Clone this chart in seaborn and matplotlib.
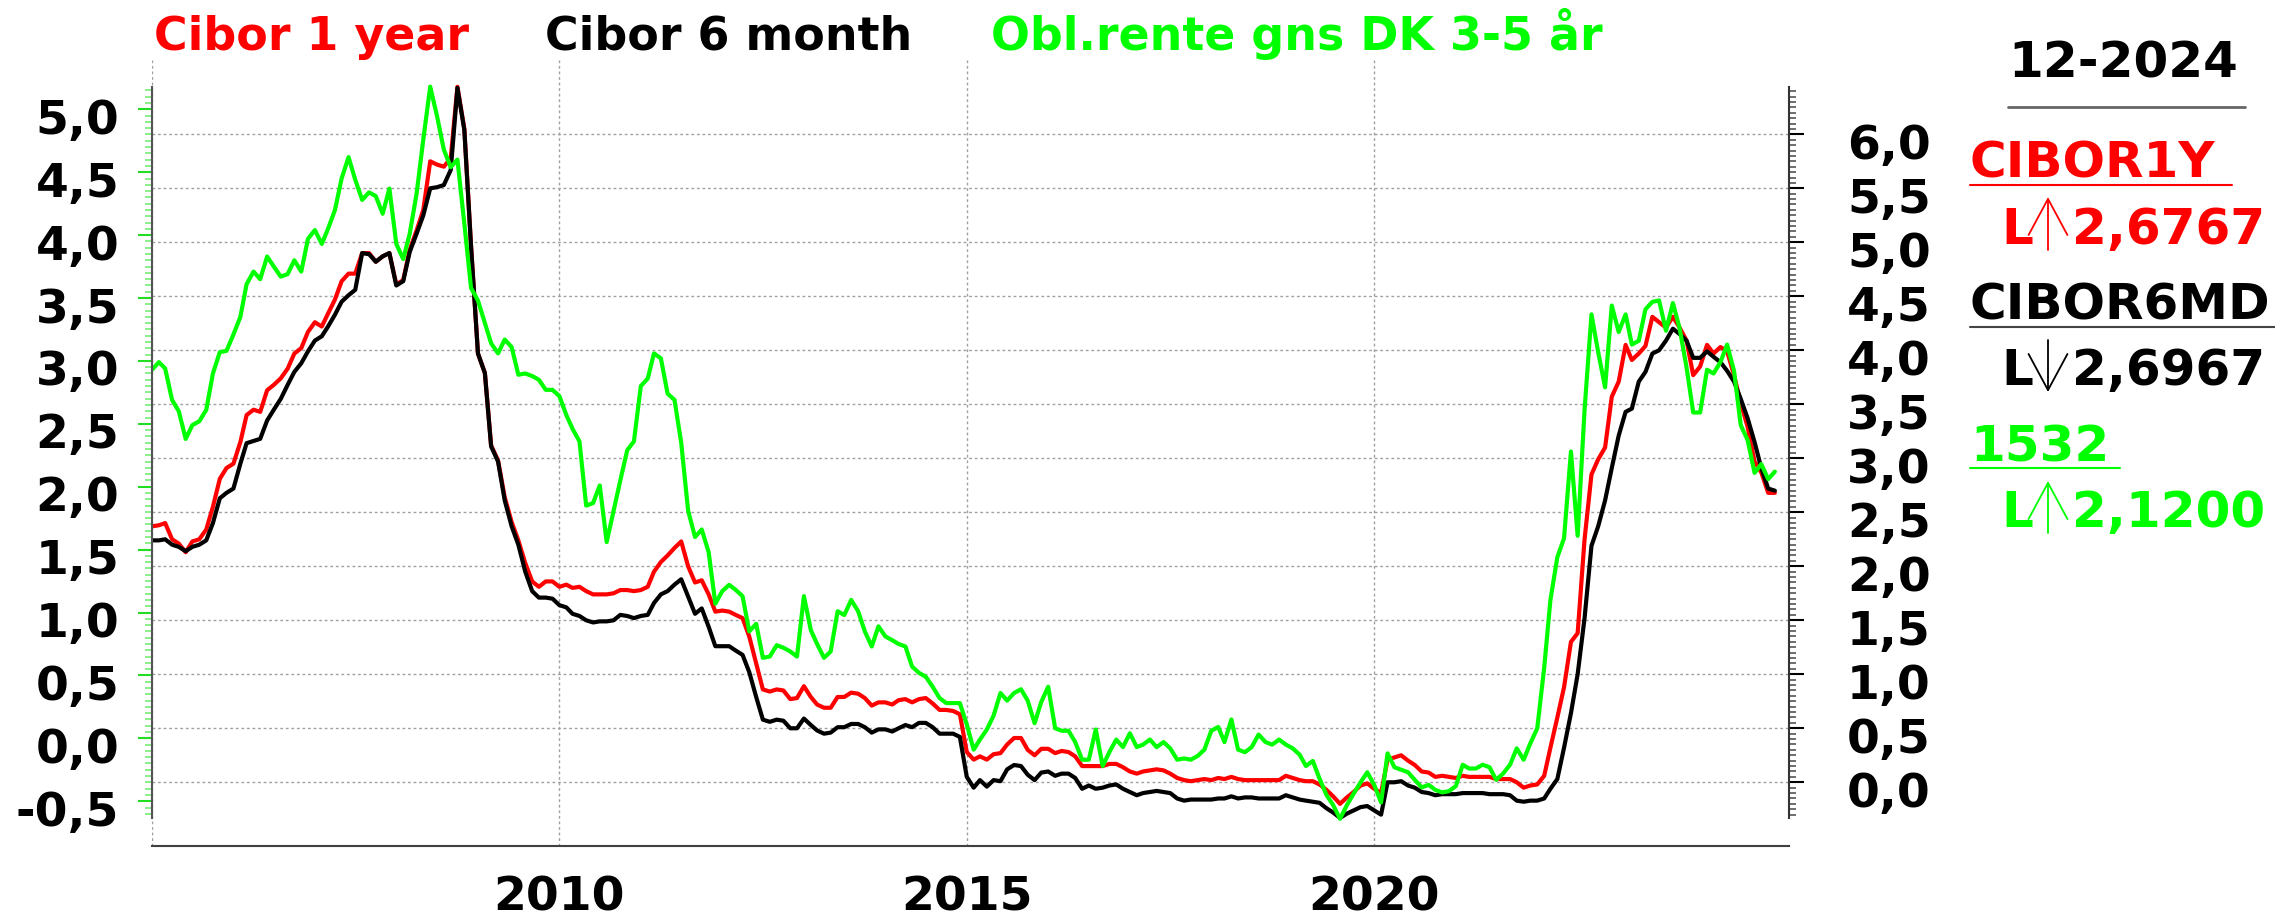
import numpy as np
import pandas as pd
import matplotlib
matplotlib.use("Agg")
import matplotlib.pyplot as plt
import matplotlib.patches as mpatches
from matplotlib.lines import Line2D
from matplotlib.transforms import ScaledTranslation
import seaborn as sns

# monthly values, Jan 2005 .. Dec 2024
months = pd.date_range("2005-01-01", "2024-12-01", freq="MS")

cibor_1y = [
    2.37, 2.38, 2.40, 2.25, 2.21, 2.13, 2.23, 2.25, 2.34, 2.55, 2.81, 2.91,  # 2005
    2.95, 3.15, 3.40, 3.45, 3.43, 3.63, 3.68, 3.74, 3.83, 3.97, 4.02, 4.17,  # 2006
    4.26, 4.22, 4.34, 4.47, 4.64, 4.71, 4.71, 4.90, 4.90, 4.82, 4.87, 4.90,  # 2007
    4.61, 4.65, 4.93, 5.11, 5.30, 5.75, 5.72, 5.70, 5.78, 6.44, 6.05, 4.97,  # 2008
    3.97, 3.79, 3.12, 2.98, 2.64, 2.41, 2.24, 2.03, 1.86, 1.81, 1.86, 1.86,  # 2009
    1.81, 1.83, 1.80, 1.81, 1.77, 1.74, 1.74, 1.74, 1.75, 1.78, 1.78, 1.77,  # 2010
    1.78, 1.81, 1.95, 2.04, 2.10, 2.17, 2.23, 2.00, 1.85, 1.87, 1.74, 1.58,  # 2011
    1.59, 1.58, 1.55, 1.52, 1.35, 1.10, 0.86, 0.84, 0.86, 0.85, 0.77, 0.78,  # 2012
    0.89, 0.79, 0.72, 0.69, 0.69, 0.79, 0.79, 0.83, 0.82, 0.78, 0.71, 0.74,  # 2013
    0.74, 0.72, 0.76, 0.77, 0.74, 0.77, 0.78, 0.73, 0.67, 0.67, 0.66, 0.63,  # 2014
    0.28, 0.21, 0.24, 0.21, 0.26, 0.27, 0.35, 0.41, 0.41, 0.30, 0.25, 0.31,  # 2015
    0.31, 0.27, 0.29, 0.28, 0.24, 0.15, 0.15, 0.15, 0.15, 0.17, 0.17, 0.14,  # 2016
    0.10, 0.08, 0.10, 0.11, 0.12, 0.11, 0.08, 0.04, 0.02, 0.01, 0.02, 0.03,  # 2017
    0.02, 0.04, 0.03, 0.05, 0.03, 0.02, 0.02, 0.02, 0.02, 0.02, 0.02, 0.06,  # 2018
    0.04, 0.02, 0.01, 0.01, -0.02, -0.07, -0.13, -0.20, -0.14, -0.09, -0.03, -0.01,  # 2019
    -0.06, -0.10, 0.21, 0.23, 0.25, 0.20, 0.16, 0.10, 0.09, 0.05, 0.06, 0.05,  # 2020
    0.04, 0.06, 0.05, 0.05, 0.05, 0.05, 0.03, 0.03, 0.03, 0.00, -0.05, -0.03,  # 2021
    -0.02, 0.06, 0.32, 0.60, 0.88, 1.30, 1.38, 2.25, 2.85, 2.99, 3.10, 3.57,  # 2022
    3.71, 4.05, 3.91, 3.97, 4.04, 4.31, 4.26, 4.21, 4.31, 4.21, 4.09, 3.77,  # 2023
    3.85, 4.05, 3.97, 4.03, 3.99, 3.77, 3.51, 3.29, 2.97, 2.87, 2.68, 2.68,  # 2024
]

cibor_6m = [
    2.24, 2.24, 2.25, 2.20, 2.18, 2.14, 2.18, 2.20, 2.24, 2.40, 2.63, 2.68,
    2.72, 2.95, 3.14, 3.16, 3.18, 3.35, 3.45, 3.55, 3.68, 3.80, 3.88, 3.99,
    4.09, 4.13, 4.22, 4.33, 4.45, 4.51, 4.56, 4.90, 4.89, 4.82, 4.87, 4.90,
    4.60, 4.64, 4.91, 5.08, 5.25, 5.50, 5.51, 5.53, 5.67, 6.43, 6.04, 4.96,
    3.97, 3.79, 3.11, 2.97, 2.61, 2.37, 2.20, 1.95, 1.77, 1.71, 1.71, 1.70,
    1.64, 1.62, 1.56, 1.54, 1.50, 1.48, 1.49, 1.49, 1.50, 1.55, 1.54, 1.52,
    1.54, 1.55, 1.66, 1.74, 1.77, 1.83, 1.88, 1.72, 1.56, 1.61, 1.44, 1.26,
    1.26, 1.26, 1.22, 1.18, 1.02, 0.79, 0.58, 0.56, 0.58, 0.57, 0.50, 0.50,
    0.59, 0.53, 0.48, 0.45, 0.46, 0.51, 0.51, 0.54, 0.54, 0.51, 0.46, 0.49,
    0.49, 0.47, 0.50, 0.53, 0.51, 0.55, 0.55, 0.51, 0.45, 0.45, 0.45, 0.42,
    0.05, -0.05, 0.02, -0.04, 0.02, 0.01, 0.12, 0.16, 0.15, 0.07, 0.02, 0.09,
    0.10, 0.06, 0.08, 0.08, 0.04, -0.06, -0.03, -0.06, -0.05, -0.03, -0.02, -0.06,
    -0.09, -0.12, -0.10, -0.09, -0.08, -0.09, -0.10, -0.15, -0.17, -0.16, -0.16, -0.16,
    -0.16, -0.15, -0.15, -0.13, -0.15, -0.14, -0.14, -0.15, -0.15, -0.15, -0.15, -0.12,
    -0.14, -0.16, -0.17, -0.18, -0.19, -0.24, -0.28, -0.33, -0.29, -0.26, -0.23, -0.22,
    -0.26, -0.30, 0.00, 0.00, 0.01, -0.03, -0.05, -0.09, -0.10, -0.12, -0.11, -0.11,
    -0.11, -0.10, -0.10, -0.10, -0.10, -0.11, -0.11, -0.11, -0.12, -0.17, -0.18, -0.17,
    -0.17, -0.15, -0.06, 0.03, 0.32, 0.64, 1.00, 1.52, 2.19, 2.37, 2.61, 2.91,
    3.21, 3.43, 3.46, 3.71, 3.80, 3.97, 4.00, 4.09, 4.20, 4.15, 4.09, 3.93,
    3.93, 3.99, 3.94, 3.89, 3.81, 3.71, 3.55, 3.37, 3.15, 2.91, 2.72, 2.70,
]

obl_3_5 = [
    2.93, 2.99, 2.94, 2.69, 2.60, 2.38, 2.49, 2.52, 2.61, 2.90, 3.07, 3.08,
    3.21, 3.35, 3.61, 3.71, 3.65, 3.83, 3.75, 3.67, 3.69, 3.80, 3.71, 3.97,
    4.04, 3.93, 4.05, 4.20, 4.45, 4.62, 4.44, 4.28, 4.34, 4.31, 4.17, 4.37,
    3.93, 3.81, 4.01, 4.33, 4.76, 5.18, 4.95, 4.68, 4.54, 4.60, 4.09, 3.58,
    3.48, 3.30, 3.14, 3.06, 3.17, 3.11, 2.89, 2.90, 2.88, 2.85, 2.77, 2.77,
    2.72, 2.57, 2.46, 2.36, 1.85, 1.87, 2.01, 1.56, 1.81, 2.05, 2.29, 2.36,
    2.80, 2.86, 3.06, 3.02, 2.74, 2.69, 2.35, 1.81, 1.60, 1.66, 1.48, 1.07,
    1.17, 1.22, 1.18, 1.13, 0.85, 0.91, 0.64, 0.65, 0.74, 0.72, 0.69, 0.65,
    1.13, 0.86, 0.75, 0.64, 0.69, 1.01, 0.98, 1.10, 1.01, 0.85, 0.73, 0.89,
    0.81, 0.78, 0.75, 0.73, 0.57, 0.52, 0.49, 0.41, 0.32, 0.28, 0.28, 0.28,
    0.11, -0.09, -0.01, 0.07, 0.18, 0.36, 0.30, 0.36, 0.39, 0.30, 0.12, 0.29,
    0.41, 0.08, 0.06, 0.06, -0.03, -0.17, -0.17, 0.07, -0.22, -0.11, -0.01, -0.07,
    0.04, -0.07, -0.05, -0.01, -0.07, -0.03, -0.08, -0.17, -0.16, -0.17, -0.14, -0.09,
    0.06, 0.09, -0.03, 0.15, -0.09, -0.11, -0.07, 0.03, -0.03, -0.05, -0.01, -0.05,
    -0.08, -0.13, -0.22, -0.18, -0.32, -0.45, -0.53, -0.64, -0.53, -0.44, -0.35, -0.27,
    -0.37, -0.51, -0.12, -0.23, -0.25, -0.27, -0.33, -0.39, -0.37, -0.41, -0.43, -0.42,
    -0.38, -0.21, -0.24, -0.24, -0.21, -0.23, -0.33, -0.28, -0.21, -0.08, -0.17, -0.04,
    0.08, 0.56, 1.10, 1.44, 1.59, 2.28, 1.61, 2.61, 3.37, 3.07, 2.79, 3.44,
    3.23, 3.37, 3.13, 3.16, 3.41, 3.47, 3.48, 3.24, 3.46, 3.26, 2.95, 2.59,
    2.59, 2.93, 2.90, 2.99, 3.13, 2.92, 2.49, 2.37, 2.11, 2.18, 2.06, 2.12,
]

# axis ticks
right_ticks = [0.0, 0.5, 1.0, 1.5, 2.0, 2.5, 3.0, 3.5, 4.0, 4.5, 5.0, 5.5, 6.0]
left_ticks = [-0.5, 0.0, 0.5, 1.0, 1.5, 2.0, 2.5, 3.0, 3.5, 4.0, 4.5, 5.0]
year_labels = ["", "2010", "2015", "2020"]

df = pd.DataFrame({"date": months, "cibor_1y": cibor_1y,
                   "cibor_6m": cibor_6m, "obl": obl_3_5})

RED, BLACK, GREEN = "#ff0000", "#000000", "#00ff00"

sns.set_style("white")
plt.rcParams["font.family"] = ["DejaVu Sans"]
plt.rcParams["font.weight"] = "bold"

W, H = 2275, 918
fig = plt.figure(figsize=(W / 100, H / 100), dpi=100)


def fx(px):
    return px / W


def fy(py):
    return 1 - py / H


ax = fig.add_axes([fx(152), fy(846), (1788.7 - 152) / W, (846 - 60) / H])
ax2 = ax.twinx()

# cibor lines on the right scale, bond yield on the left scale
sns.lineplot(data=df, x="date", y="cibor_1y", ax=ax, color=RED, lw=3)
sns.lineplot(data=df, x="date", y="cibor_6m", ax=ax, color=BLACK, lw=3)
sns.lineplot(data=df, x="date", y="obl", ax=ax2, color=GREEN, lw=3)

ax.set_xlim(pd.Timestamp("2005-01-01"), pd.Timestamp("2025-02-01"))
ax.set_ylim(-0.59, 6.688)
ax2.set_ylim(-0.856, 5.392)
for a in (ax, ax2):
    a.set_xlabel("")
    a.set_ylabel("")

# x axis
major_years = [pd.Timestamp(f"{y}-01-01") for y in (2005, 2010, 2015, 2020)]
minor_years = [pd.Timestamp(f"{y}-01-01") for y in range(2005, 2025)]
ax.set_xticks(major_years, labels=year_labels)
ax.set_xticks(minor_years, minor=True)
ax.tick_params(axis="x", which="major", direction="out", length=16, width=1.5,
               color="#404040", labelsize=34, labelcolor="black", pad=5)
ax.tick_params(axis="x", which="minor", direction="out", length=9.4, width=1.5,
               color="#404040")

# right axis (cibor)
ax.yaxis.tick_right()
ax.set_yticks(right_ticks, labels=[f"{v:.1f}".replace(".", ",") for v in right_ticks])
ax.set_yticks(np.arange(-0.30, 6.42, 0.05), minor=True)
ax.tick_params(axis="y", which="major", direction="out", length=11, width=1.5,
               color="black", labelsize=34, labelcolor="black", pad=31,
               left=False, right=True, labelleft=False, labelright=True)
ax.tick_params(axis="y", which="minor", direction="out", length=5, width=1.2,
               color="#555555", left=False, right=True)

# left axis (bond yield)
ax2.yaxis.tick_left()
ax2.set_yticks(left_ticks, labels=[f"{v:.1f}".replace(".", ",") for v in left_ticks])
ax2.set_yticks(np.arange(-0.60, 5.17, 0.05), minor=True)
ax2.tick_params(axis="y", which="major", direction="out", length=10, width=1.5,
                color="#22dd22", labelsize=34, labelcolor="black", pad=13.5,
                left=True, right=False, labelleft=True, labelright=False)
ax2.tick_params(axis="y", which="minor", direction="out", length=5, width=1.2,
                color="#77ee77", left=True, right=False)

# grid follows the right scale and the 5-year ticks
ax.grid(True, which="major", color="#a0a0a0", linestyle=(0, (2, 2)), lw=1)
ax2.grid(False)

for s in ("top", "left"):
    ax.spines[s].set_visible(False)
ax.spines["right"].set_bounds(-0.33, 6.44)
ax.spines["right"].set_color("#333333")
ax.spines["right"].set_linewidth(1.5)
ax.spines["bottom"].set_color("#404040")
ax.spines["bottom"].set_linewidth(1.5)
for s in ("top", "right", "bottom"):
    ax2.spines[s].set_visible(False)
ax2.spines["left"].set_bounds(-0.634, 5.18)
ax2.spines["left"].set_color("#555555")
ax2.spines["left"].set_linewidth(1.5)

# labels sit a little below their ticks
shift = ScaledTranslation(0, -7 / 100, fig.dpi_scale_trans)
for lab in ax.get_yticklabels() + ax2.get_yticklabels():
    lab.set_transform(lab.get_transform() + shift)

# series titles
title_kw = dict(fontsize=33, fontweight="bold", va="baseline", ha="left")
fig.text(fx(154), fy(50), "Cibor 1 year", color=RED, **title_kw)
fig.text(fx(545), fy(50), "Cibor 6 month", color=BLACK, **title_kw)
fig.text(fx(991), fy(50), "Obl.rente gns DK 3-5 år", color=GREEN, **title_kw)

# side panel with latest values
side_kw = dict(fontsize=36, fontweight="bold", va="baseline")
fig.text(fx(2123), fy(77), "12-2024", ha="center", color="black", **side_kw)


def hline(x0, x1, y, color, lw):
    fig.add_artist(Line2D([fx(x0), fx(x1)], [fy(y), fy(y)], color=color, lw=lw,
                          transform=fig.transFigure))


def arrow(x, y0, y1, color):
    fig.add_artist(mpatches.FancyArrowPatch(
        (fx(x), fy(y0)), (fx(x), fy(y1)), transform=fig.transFigure,
        arrowstyle="->,head_length=0.65,head_width=0.35", mutation_scale=40,
        lw=1.3, color=color, shrinkA=0, shrinkB=0))


hline(2008, 2245, 107, "#666666", 2)

fig.text(fx(1970), fy(178), "CIBOR1Y", ha="left", color=RED, **side_kw)
hline(1970, 2232, 185, RED, 1.5)
fig.text(fx(2001), fy(244), "L", ha="left", color=RED, **side_kw)
arrow(2048, 250, 197, RED)
fig.text(fx(2072), fy(244), "2,6767", ha="left", color=RED, **side_kw)

fig.text(fx(1970), fy(320), "CIBOR6MD", ha="left", color=BLACK, **side_kw)
hline(1970, 2275, 327, "#444444", 1.5)
fig.text(fx(2001), fy(385), "L", ha="left", color=BLACK, **side_kw)
arrow(2048, 340, 392, BLACK)
fig.text(fx(2072), fy(385), "2,6967", ha="left", color=BLACK, **side_kw)

fig.text(fx(1970), fy(462), "1532", ha="left", color=GREEN, **side_kw)
hline(1970, 2120, 468, GREEN, 1.5)
fig.text(fx(2001), fy(527), "L", ha="left", color=GREEN, **side_kw)
arrow(2048, 533, 481, GREEN)
fig.text(fx(2072), fy(527), "2,1200", ha="left", color=GREEN, **side_kw)

fig.savefig("out.png", dpi=100)
